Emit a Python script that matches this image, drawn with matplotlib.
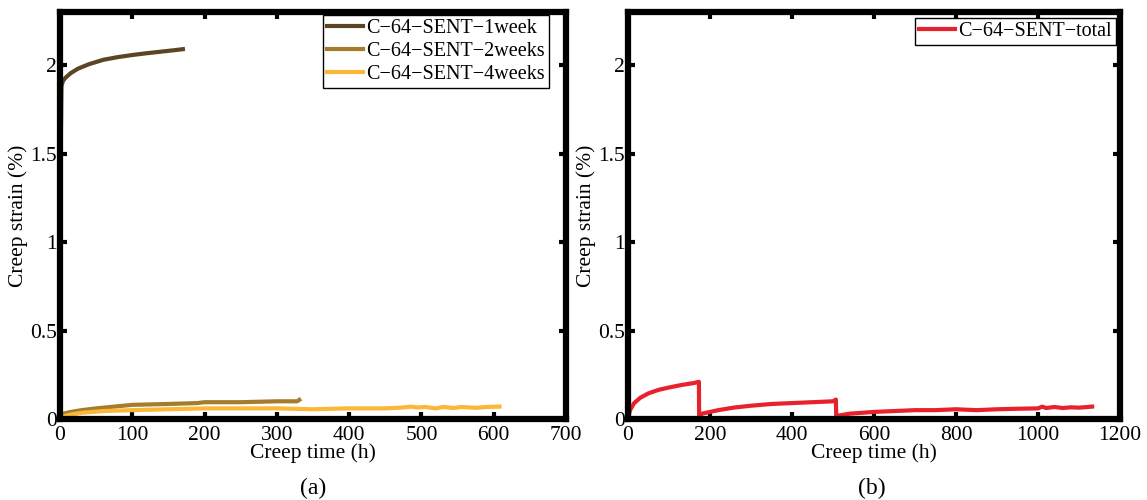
import matplotlib.pyplot as plt

plt.rcParams['font.family'] = ['Liberation Serif', 'DejaVu Serif']
plt.rcParams['axes.unicode_minus'] = True

# ---- data ----
t_1week = [0, 0.3, 1, 2, 4, 8, 15, 25, 40, 60, 80, 100, 120, 140, 160, 170]
s_1week = [0, 0.6, 1.5, 1.88, 1.91, 1.93, 1.955, 1.98, 2.005, 2.03, 2.045, 2.057, 2.067, 2.076, 2.085, 2.09]

t_2weeks = [0, 5, 15, 30, 50, 75, 100, 150, 190, 200, 250, 300, 320, 328, 331]
s_2weeks = [0.02, 0.03, 0.04, 0.05, 0.06, 0.07, 0.08, 0.085, 0.09, 0.095, 0.095, 0.1, 0.1, 0.1, 0.108]

t_4weeks = [0, 5, 15, 30, 60, 100, 150, 200, 250, 300, 350, 400, 450, 475, 485, 495, 505,
            520, 530, 545, 555, 575, 590, 608]
s_4weeks = [0.0, 0.015, 0.025, 0.035, 0.045, 0.05, 0.055, 0.06, 0.06, 0.06, 0.055, 0.06, 0.06,
            0.065, 0.07, 0.065, 0.068, 0.06, 0.068, 0.062, 0.068, 0.063, 0.068, 0.07]

t_total = [0, 5, 15, 30, 50, 75, 100, 130, 160, 173, 173.5, 180, 220, 260, 300, 350, 400, 450,
           500, 507, 508, 515, 540, 600, 650, 700, 750, 800, 850, 900, 950, 1000, 1010, 1020,
           1040, 1060, 1080, 1100, 1132]
s_total = [0, 0.05, 0.09, 0.12, 0.145, 0.165, 0.178, 0.192, 0.203, 0.21, 0.0, 0.03, 0.05, 0.065,
           0.075, 0.085, 0.09, 0.095, 0.1, 0.11, 0.0, 0.02, 0.03, 0.04, 0.045, 0.05, 0.05, 0.055,
           0.05, 0.055, 0.058, 0.06, 0.07, 0.062, 0.068, 0.062, 0.066, 0.064, 0.07]

yticks = [0, 0.5, 1, 1.5, 2]
ytick_labels = ['0', '0.5', '1', '1.5', '2']

fig = plt.figure(figsize=(11.47, 5), dpi=100)
ax1 = fig.add_axes([0.0523, 0.162, 0.4412, 0.814])
ax2 = fig.add_axes([0.5475, 0.162, 0.429, 0.814])


def style_axes(ax, xmax, xstep):
    ax.set_xlim(0, xmax)
    ax.set_ylim(0, 2.3)
    ax.set_xticks(range(0, xmax + 1, xstep))
    ax.set_yticks(yticks)
    ax.set_yticklabels(ytick_labels)
    for sp in ax.spines.values():
        sp.set_linewidth(4.5)
    ax.tick_params(direction='in', length=5, width=3, top=True, right=True,
                   labelsize=15.5)
    ax.tick_params(axis='x', pad=5)
    ax.tick_params(axis='y', pad=2)
    ax.set_xlabel('Creep time (h)', fontsize=15.5, labelpad=-1)
    ax.set_ylabel('Creep strain (%)', fontsize=15.5, labelpad=2)


lw = 3.0
ax1.plot(t_1week, s_1week, color='#5b4522', lw=lw, label='C\u221264\u2212SENT\u22121week')
ax1.plot(t_2weeks, s_2weeks, color='#a57c2c', lw=lw, label='C\u221264\u2212SENT\u22122weeks')
ax1.plot(t_4weeks, s_4weeks, color='#fbb838', lw=lw, label='C\u221264\u2212SENT\u22124weeks')
style_axes(ax1, 700, 100)

ax2.plot(t_total, s_total, color='#e8222c', lw=lw, label='C\u221264\u2212SENT\u2212total')
style_axes(ax2, 1200, 200)

# legend corners (figure fraction), taken from the reference layout
for ax, anchor in ((ax1, (0.4785, 0.97)), (ax2, (0.973, 0.964))):
    leg = ax.legend(loc='upper right', bbox_to_anchor=anchor, bbox_transform=fig.transFigure,
                    fontsize=14.5, fancybox=False, framealpha=1,
                    borderpad=0.2, labelspacing=0.2, handlelength=1.8, handletextpad=0.15,
                    borderaxespad=0)
    leg.get_frame().set_edgecolor('black')
    leg.get_frame().set_linewidth(1.0)

fig.text(0.273, 0.012, '(a)', ha='center', fontsize=17)
fig.text(0.76, 0.012, '(b)', ha='center', fontsize=17)

fig.savefig('out.png', dpi=100)
